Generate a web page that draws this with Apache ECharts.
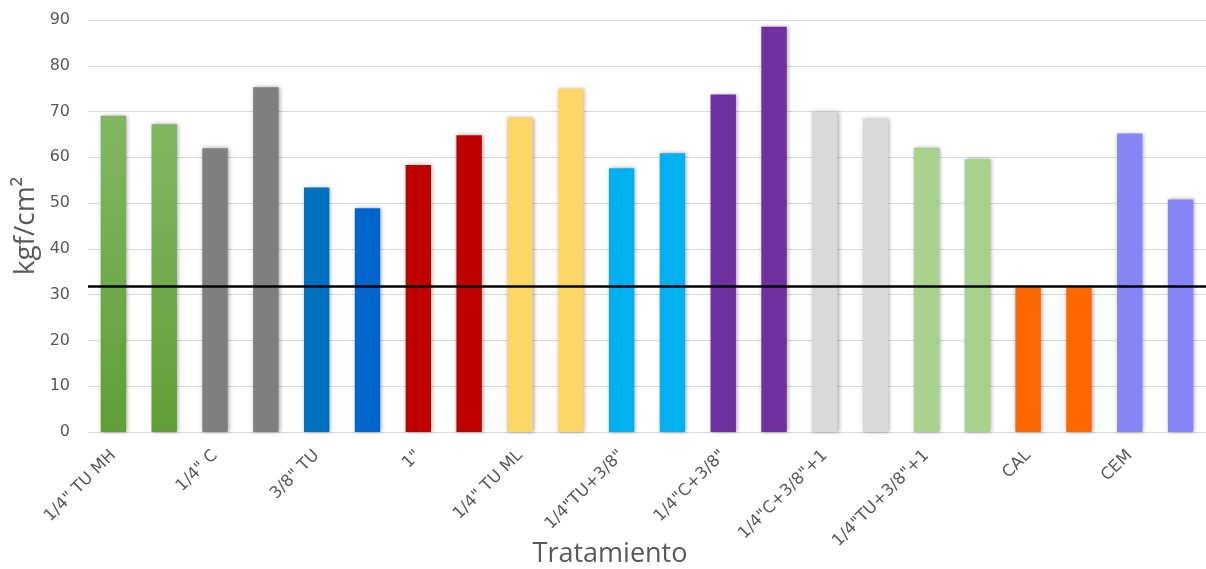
<!DOCTYPE html>
<html>
<head>
<meta charset="utf-8">
<script src="https://cdn.jsdelivr.net/npm/echarts@6/dist/echarts.min.js"></script>
<style>
html,body{margin:0;padding:0;background:#fff;}
#chart{width:1206px;height:569px;}
</style>
</head>
<body>
<div id="chart"></div>
<script>
// Treatment labels (one label per pair of bars)
const treatments = ['1/4" TU MH', '1/4" C', '3/8" TU', '1"', '1/4" TU ML', '1/4"TU+3/8"', '1/4"C+3/8"', '1/4"C+3/8"+1', '1/4"TU+3/8"+1', 'CAL', 'CEM'];
// Bar values, kgf/cm2 (two per treatment)
const values = [69.1, 67.2, 62.0, 75.3, 53.4, 48.9, 58.3, 64.8, 68.7, 75.0, 57.6, 60.9, 73.7, 88.5, 70.0, 68.4, 62.1, 59.6, 31.5, 31.5, 65.2, 50.8];
// Reference line value
const referenceLine = [31.8];
// Y-axis ticks
const yTicks = [0, 10, 20, 30, 40, 50, 60, 70, 80, 90];

const barColors = [
  {type:'linear',x:0,y:0,x2:0,y2:1,colorStops:[{offset:0,color:'#82b762'},{offset:1,color:'#5f9f36'}]},
  {type:'linear',x:0,y:0,x2:0,y2:1,colorStops:[{offset:0,color:'#82b762'},{offset:1,color:'#5f9f36'}]},
  '#7f7f7f','#7f7f7f',
  '#0070c0','#0066cc',
  '#c00000','#c00000',
  '#fdd668','#fdd668',
  '#00b0f0','#00b0f0',
  '#7030a0','#7030a0',
  '#d9d9d9','#d9d9d9',
  '#a9d18e','#a9d18e',
  '#ff6600','#ff6600',
  '#8585f8','#8585f8'
];

const categories = [];
treatments.forEach(t => { categories.push(t); categories.push(t + ' '); });

const chart = echarts.init(document.getElementById('chart'), null, {renderer:'canvas'});
const font = 'DejaVu Sans';
chart.setOption({
  animation: false,
  grid: {left: 88, right: 0, top: 20, bottom: 137, containLabel: false, outerBoundsMode: 'none'},
  xAxis: {
    type: 'category',
    data: categories,
    name: 'Tratamiento',
    nameLocation: 'middle',
    nameGap: 109,
    nameMoveOverlap: false,
    nameTextStyle: {fontFamily: 'Open Sans', fontSize: 27, color: '#595959', padding: [0, 74, 0, 0]},
    axisLine: {lineStyle: {color: '#d9d9d9', width: 1}},
    axisTick: {show: false},
    axisLabel: {
      interval: 1,
      rotate: 45,
      margin: 21,
      fontFamily: font,
      fontSize: 16.5,
      color: '#595959',
      formatter: v => v.trim()
    }
  },
  yAxis: {
    type: 'value',
    min: yTicks[0],
    max: yTicks[yTicks.length - 1],
    interval: 10,
    name: 'kgf/cm²',
    nameLocation: 'middle',
    nameRotate: 90,
    nameGap: 48,
    nameMoveOverlap: false,
    nameTextStyle: {fontFamily: 'Open Sans', fontSize: 28, color: '#595959'},
    axisLine: {show: false},
    axisTick: {show: false},
    axisLabel: {fontFamily: font, fontSize: 16, color: '#595959', margin: 18},
    splitLine: {lineStyle: {color: '#d9d9d9', width: 1}}
  },
  series: [{
    type: 'bar',
    barCategoryGap: '50%',
    data: values.map((v, i) => ({
      value: v,
      itemStyle: {color: barColors[i]}
    })),
    itemStyle: {
      shadowBlur: 4,
      shadowColor: 'rgba(0,0,0,0.35)',
      shadowOffsetX: 1,
      shadowOffsetY: 0
    },
    markLine: {
      silent: true,
      symbol: 'none',
      label: {show: false},
      lineStyle: {color: '#000', width: 2.5, type: 'solid'},
      data: referenceLine.map(v => ({yAxis: v}))
    }
  }]
});
</script>
</body>
</html>
